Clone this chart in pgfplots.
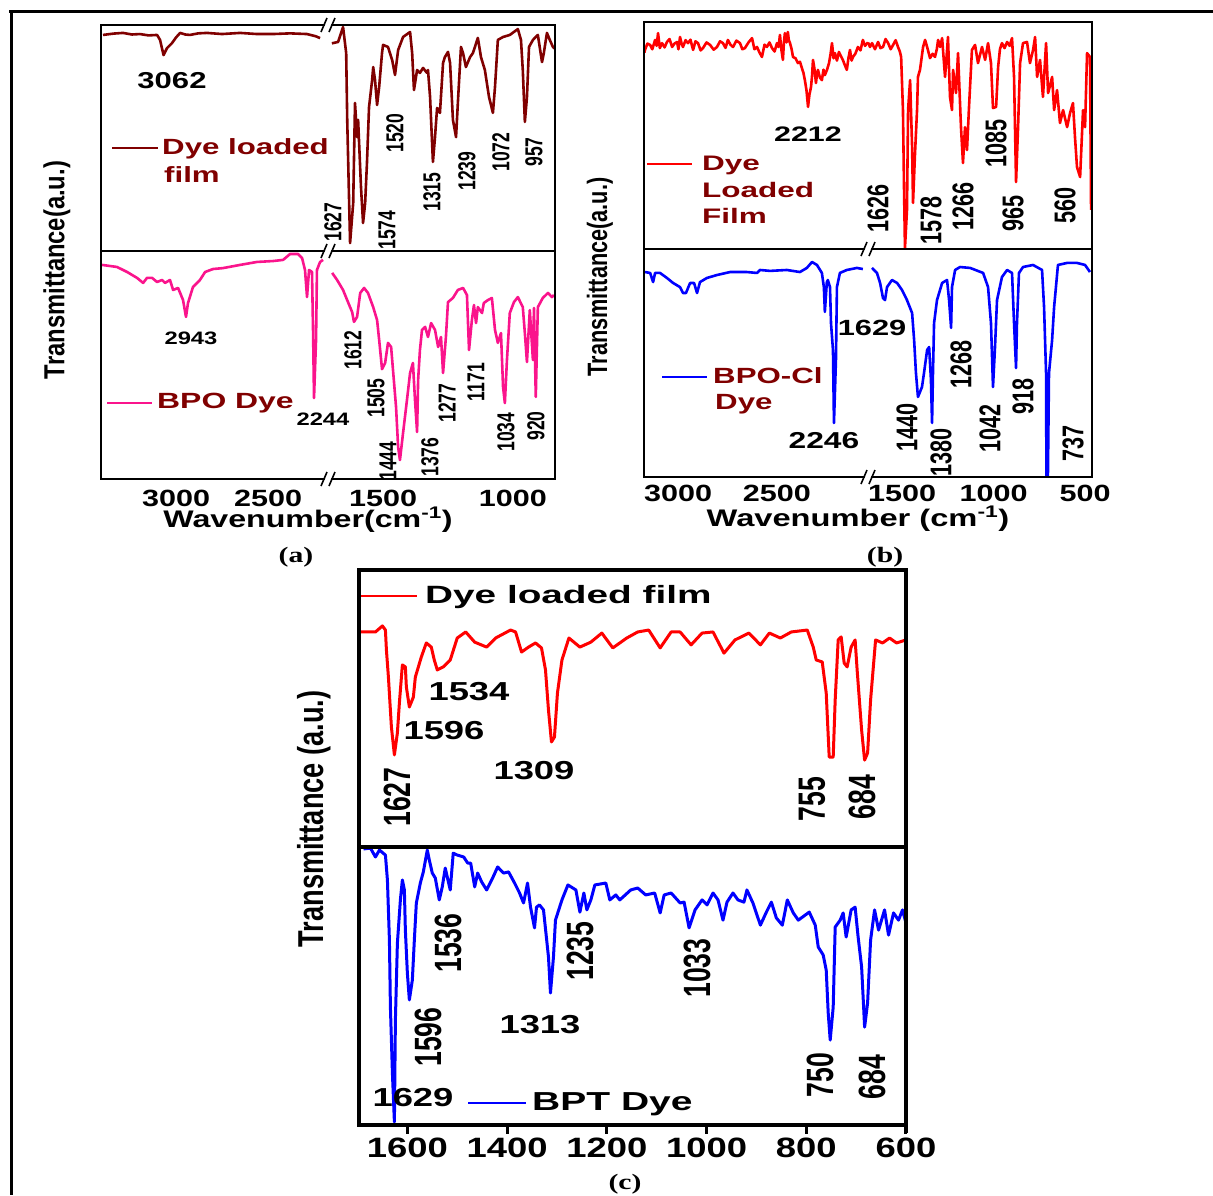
\documentclass[border=0pt]{standalone}
\usepackage{pgfplots}
\pgfplotsset{compat=1.18}
\usepackage{graphicx}
\usepackage{fontspec}
\setmainfont{Liberation Sans}
\newfontfamily\tms{Liberation Serif}
\definecolor{dred}{RGB}{128,0,0}
\definecolor{pinkc}{RGB}{250,20,140}
\definecolor{redc}{RGB}{255,0,0}
\definecolor{bluec}{RGB}{0,0,255}
\newcommand{\T}[3]{{\fontsize{#1}{#1}\selectfont\bfseries\scalebox{#2}[1]{#3}}}
\newcommand{\brk}[2]{%
  \fill[white] (#1-6,-#2-7) -- (#1,-#2+7) -- (#1+6,-#2+7) -- (#1,-#2-7) -- cycle;
  \draw[line width=1.6pt] (#1-7,-#2-7) -- (#1-1,-#2+7) (#1+1,-#2-7) -- (#1+7,-#2+7);}
\pgfplotsset{seg/.style={scale only axis, x dir=reverse, ymin=0, ymax=100,
  axis line style={draw=none}, ytick=\empty, xtick=\empty, anchor=south west,
  major tick length=0pt, clip=true},
  crv/.style={line width=2.6pt, line join=round, mark=none}}
\begin{document}
\begin{tikzpicture}[x=1pt,y=1pt]
\useasboundingbox (0,0) rectangle (1213,-1195);
% ---------- panel (a) ----------
\begin{axis}[seg, at={(101pt,-251pt)}, width=227pt, height=226pt, xmin=2174, xmax=3408]
\addplot[crv, dred] coordinates {(3397,95.6) (3340,96.2) (3288,96.5) (3240,95.8) (3196,96.0) (3150,95.4) (3103,95.6) (3087,93.4) (3068,86.7) (3049,89.8) (3022,92.0) (3000,94.5) (2978,96.5) (2950,95.8) (2924,95.6) (2880,96.3) (2832,96.5) (2750,96.0) (2652,96.5) (2560,96.0) (2473,96.0) (2380,96.3) (2288,96.0) (2240,95.0) (2217,94.2)};
\end{axis}
\begin{axis}[seg, at={(328pt,-251pt)}, width=227pt, height=226pt, xmin=838, xmax=1712]
\addplot[crv, dred] coordinates {(1697,91.9) (1673,92.5) (1654,99.1) (1642,87.6) (1638,58.0) (1627,3.5) (1615,21.2) (1608,65.5) (1600,50.4) (1596,58.0) (1585,28.3) (1577,12.4) (1569,21.2) (1562,38.9) (1554,63.7) (1542,75.7) (1538,81.4) (1531,75.7) (1523,64.6) (1515,72.6) (1504,87.6) (1500,91.2) (1481,90.3) (1465,84.5) (1454,77.9) (1442,88.9) (1423,94.7) (1396,96.9) (1388,87.6) (1381,71.2) (1369,80.1) (1358,78.8) (1346,81.0) (1331,78.8) (1327,80.1) (1319,68.1) (1308,39.4) (1300,50.4) (1292,63.3) (1281,61.1) (1269,83.2) (1262,85.8) (1250,88.1) (1242,83.2) (1231,58.0) (1219,50.4) (1212,65.5) (1200,90.3) (1192,87.6) (1181,81.4) (1165,85.8) (1154,87.6) (1135,94.3) (1123,85.8) (1108,80.1) (1092,68.1) (1077,61.1) (1069,72.6) (1058,93.4) (1038,94.7) (1012,95.6) (981,98.2) (969,93.4) (962,80.1) (954,57.1) (946,68.1) (938,90.3) (923,93.4) (904,95.6) (888,83.6) (881,87.6) (869,96.5) (858,93.4) (846,90.3) (838,89.5)};
\end{axis}
\begin{axis}[seg, at={(101pt,-479pt)}, width=227pt, height=228pt, xmin=2174, xmax=3408,
  xtick={3000,2500}, xticklabels={\T{23.5}{1.3}{3000},\T{23.5}{1.3}{2500}},
  xticklabel style={anchor=center, inner sep=0pt, yshift=-19pt}]
\addplot[crv, pinkc] coordinates {(3402,93.9) (3321,93.0) (3266,90.8) (3212,88.2) (3179,86.0) (3158,88.2) (3130,88.2) (3103,86.4) (3076,87.3) (3060,86.0) (3033,87.3) (3016,82.9) (2989,83.8) (2962,78.5) (2946,71.1) (2935,77.2) (2908,84.2) (2870,87.3) (2842,90.8) (2799,92.1) (2745,92.5) (2652,93.9) (2560,95.2) (2473,95.6) (2418,96.1) (2380,98.7) (2337,98.7) (2315,96.9) (2299,91.7) (2288,79.8) (2277,91.7) (2261,90.8) (2255,64.0) (2250,35.5) (2239,61.0) (2234,91.7) (2217,95.2) (2201,96.1)};
\end{axis}
\begin{axis}[seg, at={(328pt,-479pt)}, width=227pt, height=228pt, xmin=838, xmax=1712,
  xtick={1500,1000}, xticklabels={\T{23.5}{1.3}{1500},\T{23.5}{1.3}{1000}},
  xticklabel style={anchor=center, inner sep=0pt, yshift=-19pt}]
\addplot[crv, pinkc] coordinates {(1696,90.4) (1677,87.3) (1654,82.9) (1635,77.6) (1619,73.2) (1612,68.9) (1600,71.1) (1588,81.6) (1573,83.8) (1558,81.6) (1538,75.4) (1523,69.7) (1515,61.0) (1504,48.2) (1492,50.9) (1481,59.7) (1469,57.9) (1462,48.2) (1450,31.6) (1442,14.0) (1435,8.3) (1423,20.2) (1408,34.6) (1396,46.5) (1385,50.9) (1377,34.6) (1369,20.6) (1365,43.4) (1358,56.6) (1350,65.4) (1338,66.7) (1327,62.3) (1315,68.4) (1300,65.4) (1288,57.9) (1277,62.3) (1269,46.5) (1258,62.3) (1250,77.6) (1231,79.4) (1212,82.9) (1192,83.8) (1177,80.7) (1169,56.6) (1158,69.7) (1150,76.3) (1142,68.4) (1135,75.4) (1119,72.8) (1112,77.2) (1096,78.5) (1081,79.4) (1069,65.4) (1058,59.7) (1046,64.0) (1038,40.4) (1031,33.3) (1023,52.2) (1012,72.8) (996,77.6) (981,79.8) (962,75.4) (954,64.0) (946,51.3) (935,74.1) (923,52.2) (919,75.0) (912,36.0) (904,75.4) (885,79.4) (865,81.6) (850,79.8) (842,80.7)};
\end{axis}
% ---------- panel (b) ----------
\begin{axis}[seg, at={(644pt,-249pt)}, width=224pt, height=227pt, xmin=2040, xmax=3172]
\addplot[crv, redc] coordinates {(3170,86.5) (3167,87.7) (3155,90.5) (3141,89.9) (3130,88.0) (3116,92.1) (3108,89.5) (3101,95.1) (3092,88.5) (3081,90.7) (3068,88.8) (3056,91.2) (3043,92.5) (3030,89.0) (3018,90.5) (3005,91.2) (2998,88.0) (2990,93.4) (2982,90.5) (2975,89.0) (2962,92.0) (2950,90.7) (2937,92.2) (2924,87.7) (2912,91.5) (2899,90.7) (2886,87.5) (2874,88.5) (2856,91.0) (2838,89.9) (2820,87.8) (2803,89.0) (2788,91.5) (2773,90.7) (2760,88.6) (2748,92.1) (2735,90.0) (2722,89.0) (2705,91.8) (2687,90.7) (2675,88.0) (2662,88.5) (2644,91.0) (2626,92.9) (2614,88.0) (2601,89.0) (2588,86.5) (2576,84.6) (2563,90.0) (2551,89.0) (2538,91.0) (2525,88.5) (2512,87.0) (2500,90.7) (2492,89.0) (2485,94.3) (2478,88.0) (2470,83.3) (2465,91.0) (2460,95.1) (2452,91.0) (2445,95.6) (2440,92.0) (2434,90.7) (2426,88.0) (2419,84.6) (2406,84.0) (2394,81.9) (2384,82.5) (2374,79.7) (2366,77.5) (2359,74.4) (2351,70.0) (2343,62.6) (2336,68.0) (2328,71.4) (2323,76.0) (2318,83.3) (2310,79.0) (2303,73.1) (2298,77.0) (2293,78.9) (2283,75.5) (2273,74.4) (2265,79.0) (2258,76.6) (2247,79.0) (2237,81.9) (2229,86.0) (2222,90.7) (2214,84.0) (2207,86.3) (2197,83.0) (2187,86.8) (2177,85.0) (2167,83.3) (2157,81.0) (2147,78.9) (2139,84.0) (2131,87.7) (2123,83.0) (2116,84.6) (2104,86.0) (2091,89.0) (2078,87.5) (2066,92.1) (2055,89.5) (2040,91.0)};
\end{axis}
\begin{axis}[seg, at={(868pt,-249pt)}, width=224pt, height=227pt, xmin=462, xmax=1686]
\addplot[crv, redc] coordinates {(1686,91.0) (1675,89.0) (1664,90.7) (1648,88.0) (1631,91.2) (1618,88.5) (1604,89.0) (1590,92.5) (1576,90.7) (1562,88.0) (1549,89.9) (1535,92.0) (1522,89.0) (1512,87.0) (1505,84.6) (1495,61.2) (1489,26.0) (1484,0.4) (1473,17.2) (1467,61.2) (1456,74.4) (1445,44.9) (1440,20.3) (1429,42.3) (1418,61.2) (1413,75.8) (1402,78.9) (1385,89.0) (1374,92.1) (1363,89.0) (1347,84.1) (1333,86.0) (1320,84.6) (1310,88.0) (1303,92.1) (1292,89.0) (1281,92.9) (1265,75.8) (1254,87.7) (1249,93.4) (1238,67.0) (1227,61.2) (1221,78.9) (1205,68.7) (1194,86.3) (1178,53.7) (1167,37.9) (1156,53.7) (1145,43.6) (1134,62.6) (1118,87.7) (1101,89.9) (1085,81.9) (1063,89.0) (1046,83.3) (1030,90.7) (1014,81.9) (1003,62.1) (986,62.6) (975,80.2) (965,88.0) (954,90.7) (940,88.5) (926,91.2) (912,89.5) (899,92.9) (888,75.8) (877,29.5) (866,53.7) (855,81.9) (839,90.7) (817,91.2) (801,81.9) (784,87.7) (773,93.4) (762,75.8) (746,83.3) (730,67.0) (713,90.7) (702,68.7) (680,75.8) (669,61.2) (653,70.0) (637,55.5) (620,61.2) (598,53.7) (582,59.9) (566,64.3) (555,49.3) (544,36.1) (527,31.7) (511,61.2) (500,53.7) (489,86.3) (473,84.6) (467,17.2)};
\end{axis}
\begin{axis}[seg, at={(644pt,-477pt)}, width=224pt, height=228pt, xmin=2040, xmax=3172,
  xtick={3000,2500}, xticklabels={\T{23.5}{1.3}{3000},\T{23.5}{1.3}{2500}},
  xticklabel style={anchor=center, inner sep=0pt, yshift=-16pt}]
\addplot[crv, bluec] coordinates {(3167,89.9) (3141,89.5) (3126,85.5) (3116,89.5) (3091,89.5) (3056,87.3) (3025,85.1) (2990,83.3) (2975,80.7) (2960,80.7) (2939,85.1) (2919,85.1) (2904,80.7) (2889,85.5) (2854,87.3) (2803,88.6) (2737,89.9) (2652,89.9) (2601,89.5) (2586,90.8) (2535,90.4) (2450,90.8) (2384,89.9) (2349,91.7) (2323,94.3) (2298,93.0) (2273,89.5) (2263,83.3) (2258,72.4) (2248,85.5) (2243,86.4) (2232,83.3) (2227,67.5) (2217,55.7) (2212,23.7) (2202,51.3) (2197,83.3) (2182,89.5) (2147,90.8) (2096,91.7) (2066,91.2)};
\end{axis}
\begin{axis}[seg, at={(868pt,-477pt)}, width=224pt, height=228pt, xmin=462, xmax=1686,
  xtick={1500,1000,500}, xticklabels={\T{23.5}{1.3}{1500},\T{23.5}{1.3}{1000},\T{23.5}{1.3}{500}},
  xticklabel style={anchor=center, inner sep=0pt, yshift=-16pt}]
\addplot[crv, bluec] coordinates {(1664,91.7) (1637,89.5) (1620,85.1) (1604,78.5) (1593,77.6) (1582,83.3) (1555,86.4) (1527,85.1) (1500,82.0) (1473,77.6) (1445,71.9) (1434,60.1) (1424,45.6) (1413,35.1) (1391,39.5) (1380,45.6) (1363,55.7) (1352,57.0) (1342,42.5) (1336,23.7) (1331,45.6) (1325,67.5) (1309,77.6) (1281,85.1) (1254,86.4) (1243,77.6) (1232,65.4) (1227,83.3) (1210,90.8) (1183,92.1) (1128,91.7) (1057,89.5) (1030,83.3) (1014,67.5) (1003,39.5) (992,57.0) (981,77.6) (954,87.7) (926,90.8) (899,89.5) (888,67.5) (877,47.8) (872,67.5) (861,89.5) (839,92.1) (784,93.0) (735,90.8) (724,74.6) (713,45.6) (711,0) (703,0) (697,45.6) (680,60.1) (669,74.6) (648,93.0) (598,93.9) (544,93.9) (500,93.0) (473,89.9)};
\end{axis}
% ---------- panel (c) ----------
\begin{axis}[seg, at={(359pt,-847pt)}, width=547pt, height=275pt, xmin=600, xmax=1697]
\addplot[crv, redc, line width=3pt] coordinates {(1696,78.2) (1664,78.2) (1650,80.4) (1644,78.9) (1642,71.6) (1638,61.8) (1632,43.6) (1626,33.5) (1620,41.5) (1616,52.4) (1610,66.2) (1604,65.5) (1602,58.2) (1596,50.9) (1588,54.5) (1584,61.8) (1572,69.1) (1562,74.2) (1552,72.7) (1546,68.0) (1540,64.4) (1528,65.5) (1514,68.0) (1500,76.0) (1483,78.2) (1465,74.5) (1441,72.7) (1423,76.0) (1393,78.9) (1383,78.2) (1371,70.9) (1357,72.7) (1343,74.2) (1331,72.4) (1323,64.4) (1317,49.8) (1311,38.2) (1305,40.0) (1299,56.0) (1290,68.0) (1276,76.0) (1254,72.7) (1232,74.5) (1210,77.8) (1188,72.4) (1160,76.0) (1138,78.2) (1116,78.9) (1093,72.4) (1071,78.2) (1053,78.2) (1031,73.5) (1009,77.8) (987,78.2) (965,70.5) (943,75.3) (915,77.8) (892,73.5) (874,77.8) (852,76.0) (830,78.2) (798,78.9) (786,72.7) (780,68.0) (768,67.3) (760,56.0) (754,32.7) (746,32.7) (742,53.5) (736,75.3) (730,76.4) (724,66.9) (718,65.5) (710,72.7) (702,75.3) (698,64.4) (689,42.5) (683,31.6) (677,34.2) (671,53.5) (661,75.3) (647,74.2) (633,76.0) (619,74.2) (600,75.3)};
\end{axis}
\begin{axis}[seg, at={(359pt,-1124pt)}, width=547pt, height=277pt, xmin=600, xmax=1697,
  xtick={1600,1400,1200,1000,800,600},
  xticklabels={\T{28}{1.3}{1600},\T{28}{1.3}{1400},\T{28}{1.3}{1200},\T{28}{1.3}{1000},\T{28}{1.3}{800},\T{28}{1.3}{600}},
  xtick pos=bottom, tick align=outside, major tick length=9pt,
  xtick style={draw=black, line width=3pt},
  xticklabel style={anchor=center, inner sep=0pt, yshift=-15pt}]
\addplot[crv, bluec, line width=3pt] coordinates {(1688,99.3) (1674,99.6) (1664,96.4) (1656,98.9) (1644,97.1) (1640,88.1) (1636,66.4) (1634,42.2) (1630,18.4) (1626,0.7) (1624,37.5) (1620,65.3) (1614,80.9) (1610,88.1) (1606,84.5) (1604,70.0) (1600,54.5) (1596,44.8) (1590,52.0) (1586,66.4) (1582,79.8) (1574,87.0) (1568,91.0) (1560,98.9) (1556,95.3) (1550,90.6) (1544,88.8) (1536,80.9) (1530,85.6) (1524,92.4) (1520,89.2) (1514,84.5) (1508,97.8) (1500,97.1) (1487,96.4) (1479,94.2) (1473,94.2) (1465,85.6) (1459,90.6) (1451,87.4) (1441,84.5) (1429,88.8) (1419,92.8) (1407,90.6) (1397,91.0) (1385,87.0) (1375,83.4) (1367,79.8) (1359,87.0) (1353,78.3) (1345,70.8) (1341,78.3) (1335,79.1) (1327,77.3) (1317,60.3) (1313,47.3) (1307,60.3) (1303,73.6) (1290,80.9) (1278,86.3) (1262,84.5) (1254,76.5) (1246,83.4) (1240,77.3) (1232,80.9) (1224,86.3) (1202,87.0) (1194,80.9) (1182,82.7) (1174,80.9) (1152,84.5) (1138,85.2) (1122,82.7) (1104,83.4) (1093,76.2) (1085,82.7) (1071,83.4) (1053,79.8) (1045,80.1) (1035,70.8) (1023,77.3) (1009,80.9) (999,79.1) (987,83.4) (977,80.9) (967,73.6) (959,80.1) (947,83.4) (937,80.9) (925,80.1) (919,84.5) (907,79.8) (892,71.8) (880,76.5) (870,80.1) (860,74.4) (848,71.8) (838,80.9) (826,76.2) (816,73.6) (794,76.5) (782,71.8) (776,63.9) (766,61.0) (760,55.6) (756,40.1) (752,30.3) (746,42.2) (742,71.1) (732,73.6) (726,76.2) (720,67.5) (710,77.3) (702,78.3) (696,67.5) (689,56.7) (683,35.0) (677,43.7) (671,66.4) (663,77.3) (655,70.0) (643,77.3) (635,68.2) (625,76.2) (615,73.6) (607,77.3) (600,72.6)};
\end{axis}
% ---------- frames ----------
\draw[line width=3pt] (9,-11.5) -- (1213,-11.5);
\draw[line width=3pt] (11,-10) -- (11,-1195);
\draw[line width=2pt] (101,-25) rectangle (555,-479);
\draw[line width=2pt] (101,-251) -- (555,-251);
\draw[line width=2pt] (644,-22) rectangle (1092,-477);
\draw[line width=2pt] (644,-249) -- (1092,-249);
\draw[line width=4pt] (359,-570) rectangle (906,-1125);
\draw[line width=3.5pt] (359,-847) -- (906,-847);
\foreach \tx in {407.4,507.1,606.8,706.5,806.3,905} \draw[line width=3pt] (\tx,-1125) -- (\tx,-1134);
\brk{328}{25}\brk{328}{251}\brk{328}{479}
\brk{868}{249}\brk{868}{477}
% ---------- texts (a) ----------
\begin{scope}[every node/.style={inner sep=0pt}]
\node[rotate=90] at (57,-270) {\T{29}{0.82}{Transmittance(a.u.)}};
\node at (172,-81) {\T{23}{1.35}{3062}};
\draw[dred, line width=2pt] (112,-148) -- (158,-148);
\node[anchor=base west, text=dred] at (162,-154) {\T{22}{1.42}{Dye loaded}};
\node[anchor=base west, text=dred] at (164,-182) {\T{22}{1.42}{film}};
\node[rotate=90] at (333,-222) {\T{24.5}{0.715}{1627}};
\node[rotate=90] at (387,-230) {\T{24.5}{0.715}{1574}};
\node[rotate=90] at (395,-133) {\T{24.5}{0.715}{1520}};
\node[rotate=90] at (432,-192) {\T{24.5}{0.715}{1315}};
\node[rotate=90] at (467,-171) {\T{24.5}{0.715}{1239}};
\node[rotate=90] at (501,-152) {\T{24.5}{0.715}{1072}};
\node[rotate=90] at (534,-152) {\T{24.5}{0.715}{957}};
\node at (191,-338) {\T{18}{1.32}{2943}};
\node at (323,-419) {\T{18}{1.32}{2244}};
\draw[pinkc, line width=2pt] (107,-403) -- (152,-403);
\node[anchor=base west, text=dred] at (157,-408) {\T{22}{1.45}{BPO Dye}};
\node[rotate=90] at (353,-350) {\T{24.5}{0.715}{1612}};
\node[rotate=90] at (376,-398) {\T{24.5}{0.715}{1505}};
\node[rotate=90] at (388,-461) {\T{24.5}{0.715}{1444}};
\node[rotate=90] at (430,-457) {\T{24.5}{0.715}{1376}};
\node[rotate=90] at (447,-403) {\T{24.5}{0.715}{1277}};
\node[rotate=90] at (476,-382) {\T{24.5}{0.715}{1171}};
\node[rotate=90] at (506,-432) {\T{24.5}{0.715}{1034}};
\node[rotate=90] at (536,-426) {\T{24.5}{0.715}{920}};
\node at (308,-520) {\T{24}{1.34}{Wavenumber(cm\textsuperscript{-1})}};
\node at (296,-557) {{\tms\bfseries\fontsize{22}{22}\selectfont\scalebox{1.35}[1]{(a)}}};
% ---------- texts (b) ----------
\node[rotate=90] at (600,-277) {\T{28}{0.775}{Transmittance(a.u.)}};
\node at (808,-134) {\T{21}{1.45}{2212}};
\draw[redc, line width=2pt] (647,-164) -- (692,-164);
\node[anchor=base west, text=dred] at (702,-170) {\T{21}{1.5}{Dye}};
\node[anchor=base west, text=dred] at (702,-197) {\T{21}{1.5}{Loaded}};
\node[anchor=base west, text=dred] at (702,-223) {\T{21}{1.5}{Film}};
\node[rotate=90] at (878,-208) {\T{30}{0.72}{1626}};
\node[rotate=90] at (931,-220) {\T{30}{0.72}{1578}};
\node[rotate=90] at (963,-206) {\T{30}{0.72}{1266}};
\node[rotate=90] at (996,-143) {\T{30}{0.72}{1085}};
\node[rotate=90] at (1013,-213) {\T{30}{0.72}{965}};
\node[rotate=90] at (1065,-205) {\T{30}{0.72}{560}};
\node at (872,-328) {\T{22}{1.4}{1629}};
\node at (824,-441) {\T{23}{1.38}{2246}};
\draw[bluec, line width=2pt] (662,-377) -- (707,-377);
\node[anchor=base west, text=dred] at (713,-383) {\T{22}{1.42}{BPO-Cl}};
\node[anchor=base west, text=dred] at (715,-409) {\T{22}{1.42}{Dye}};
\node[rotate=90] at (907,-427) {\T{30}{0.72}{1440}};
\node[rotate=90] at (941,-452) {\T{30}{0.72}{1380}};
\node[rotate=90] at (961,-364) {\T{30}{0.72}{1268}};
\node[rotate=90] at (990,-428) {\T{30}{0.72}{1042}};
\node[rotate=90] at (1023,-396) {\T{30}{0.72}{918}};
\node[rotate=90] at (1073,-443) {\T{30}{0.72}{737}};
\node at (858,-519) {\T{24}{1.36}{Wavenumber (cm\textsuperscript{-1})}};
\node at (885,-557) {{\tms\bfseries\fontsize{22}{22}\selectfont\scalebox{1.35}[1]{(b)}}};
% ---------- texts (c) ----------
\node[rotate=90] at (314,-819) {\T{36}{0.755}{Transmittance (a.u.)}};
\draw[redc, line width=2.6pt] (361,-596) -- (417,-596);
\node[anchor=base west] at (425,-603) {\T{25}{1.55}{Dye loaded film}};
\node at (469,-692) {\T{26}{1.4}{1534}};
\node at (444,-731) {\T{26}{1.4}{1596}};
\node at (534,-771) {\T{26}{1.4}{1309}};
\node[rotate=90] at (397,-797) {\T{38}{0.7}{1627}};
\node[rotate=90] at (812,-799) {\T{38}{0.7}{755}};
\node[rotate=90] at (862,-797) {\T{38}{0.7}{684}};
\node[rotate=90] at (448,-943) {\T{38}{0.7}{1536}};
\node[rotate=90] at (428,-1037) {\T{38}{0.7}{1596}};
\node[rotate=90] at (580,-951) {\T{38}{0.7}{1235}};
\node[rotate=90] at (697,-968) {\T{38}{0.7}{1033}};
\node[rotate=90] at (820,-1075) {\T{38}{0.7}{750}};
\node[rotate=90] at (872,-1077) {\T{38}{0.7}{684}};
\node at (540,-1025) {\T{26}{1.4}{1313}};
\node at (413,-1098) {\T{26}{1.4}{1629}};
\draw[bluec, line width=2.6pt] (468,-1103) -- (526,-1103);
\node[anchor=base west] at (532,-1110) {\T{26}{1.5}{BPT Dye}};
\node at (625,-1184) {{\tms\bfseries\fontsize{22}{22}\selectfont\scalebox{1.35}[1]{(c)}}};
\end{scope}
\end{tikzpicture}
\end{document}
